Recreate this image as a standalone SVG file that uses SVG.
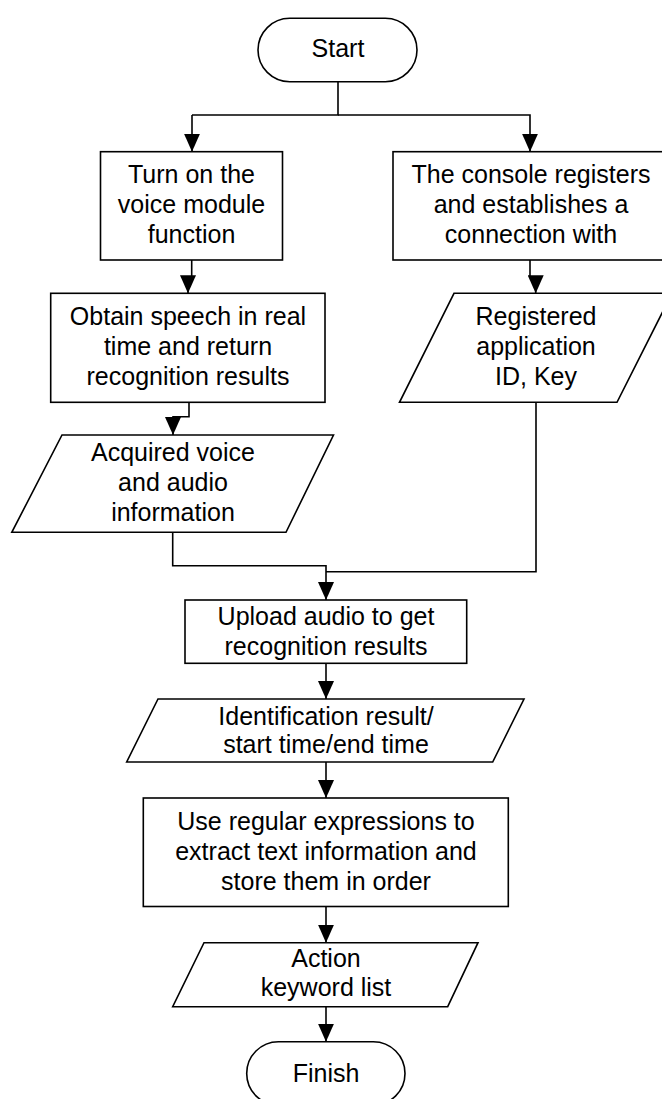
<svg xmlns="http://www.w3.org/2000/svg" width="662" height="1099" viewBox="0 0 662 1099">
<defs>
<marker id="arr" markerUnits="userSpaceOnUse" markerWidth="18" markerHeight="16" viewBox="0 0 18 16" refX="18" refY="8" orient="auto">
<path d="M0,0 L18,8 L0,16 z" fill="#000"/>
</marker>
<style>
.s{fill:#fff;stroke:#000;stroke-width:1.6}
.c{fill:none;stroke:#000;stroke-width:1.6}
.a{marker-end:url(#arr)}
text{font-family:"Liberation Sans",Arial,sans-serif;font-size:25px;fill:#000;text-anchor:middle}
</style>
</defs>
<rect width="662" height="1099" fill="#fff"/>
<g id="connectors">
<path class="c" d="M338,81.7 V115 H192"/>
<path class="c a" d="M192,115 V151.7"/>
<path class="c a" d="M338,115 H530 V151.7"/>
<path class="c a" d="M191.7,260 V277 H188 V293.3"/>
<path class="c a" d="M530,260 V277 H535.7 V293.3"/>
<path class="c a" d="M189,402.3 V416.7 H173 V435"/>
<path class="c a" d="M172.7,532.3 V565.7 H326 V600"/>
<path class="c" d="M536,402.3 V571.7 H326"/>
<path class="c a" d="M326,663.3 V699"/>
<path class="c a" d="M326,762 V798"/>
<path class="c a" d="M326,906.5 V942.7"/>
<path class="c a" d="M326,1006.7 V1041.7"/>
</g>
<g id="start">
<rect class="s" x="258" y="18.3" width="159" height="63.4" rx="31.7"/>
<text x="338" y="57">Start</text>
</g>
<g id="turn-on">
<rect class="s" x="100.5" y="151.7" width="182" height="108.3"/>
<text x="191.5" y="183">Turn on the</text>
<text x="191.5" y="213">voice module</text>
<text x="191.5" y="243">function</text>
</g>
<g id="console">
<rect class="s" x="393" y="151.7" width="275" height="108.3"/>
<text x="531" y="183">The console registers</text>
<text x="531" y="213">and establishes a</text>
<text x="531" y="243">connection with</text>
</g>
<g id="obtain">
<rect class="s" x="50.7" y="293.3" width="274.3" height="109"/>
<text x="188" y="325">Obtain speech in real</text>
<text x="188" y="355">time and return</text>
<text x="188" y="385">recognition results</text>
</g>
<g id="registered">
<polygon class="s" points="454,293.3 672,293.3 617,402.3 399.5,402.3"/>
<text x="536" y="325">Registered</text>
<text x="536" y="355">application</text>
<text x="536" y="385">ID, Key</text>
</g>
<g id="acquired">
<polygon class="s" points="62,435 333.5,435 286,532.3 11.8,532.3"/>
<text x="173" y="461">Acquired voice</text>
<text x="173" y="491">and audio</text>
<text x="173" y="521">information</text>
</g>
<g id="upload">
<rect class="s" x="185" y="600" width="281.7" height="63.3"/>
<text x="326" y="625">Upload audio to get</text>
<text x="326" y="655">recognition results</text>
</g>
<g id="identification">
<polygon class="s" points="158,699 524,699 492.7,762 126.7,762"/>
<text x="326" y="725">Identification result/</text>
<text x="326" y="753">start time/end time</text>
</g>
<g id="regex">
<rect class="s" x="143.3" y="798" width="365" height="108.5"/>
<text x="326" y="830">Use regular expressions to</text>
<text x="326" y="860">extract text information and</text>
<text x="326" y="890">store them in order</text>
</g>
<g id="action">
<polygon class="s" points="204,942.7 478,942.7 447.7,1006.7 172.7,1006.7"/>
<text x="326" y="967">Action</text>
<text x="326" y="996">keyword list</text>
</g>
<g id="finish">
<rect class="s" x="246.7" y="1041.7" width="158.3" height="63.4" rx="31.7"/>
<text x="326" y="1082">Finish</text>
</g>
</svg>
